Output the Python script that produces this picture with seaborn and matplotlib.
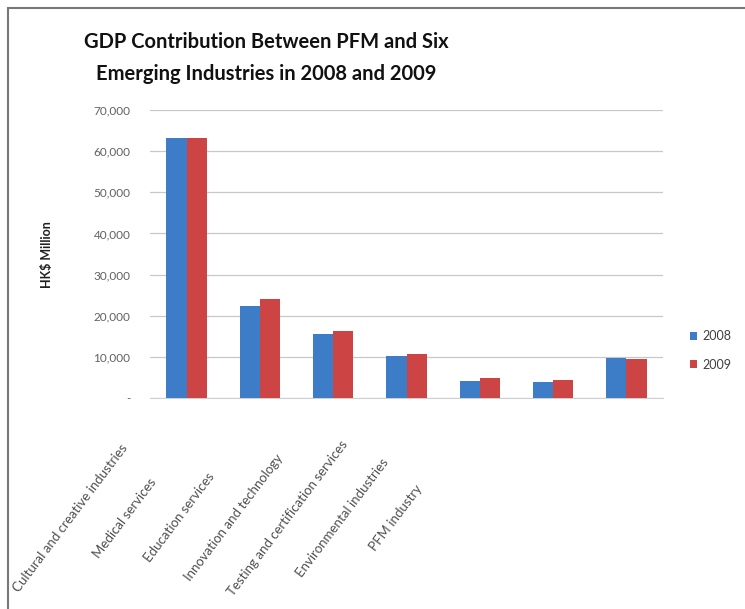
import pandas as pd
import numpy as np
import matplotlib.pyplot as plt
import seaborn as sns
from matplotlib.ticker import FuncFormatter
from matplotlib.transforms import ScaledTranslation
from matplotlib.patches import Rectangle

# values (HK$ million)
industries = ['Cultural and creative industries', 'Medical services', 'Education services',
              'Innovation and technology', 'Testing and certification services',
              'Environmental industries', 'PFM industry']
gdp_2008 = [63300, 22400, 15600, 10200, 4200, 3900, 9700]
gdp_2009 = [63100, 24100, 16300, 10600, 4900, 4400, 9600]
years = ['2008', '2009']

df = pd.DataFrame({
    'Industry': industries * 2,
    'Year': ['2008'] * len(industries) + ['2009'] * len(industries),
    'GDP': gdp_2008 + gdp_2009,
})

sns.set_style('white')
plt.rcParams['font.family'] = ['Lato', 'DejaVu Sans']

fig = plt.figure(figsize=(7.45, 6.09), dpi=100)
ax = fig.add_axes([150 / 745, 1 - 398 / 609, 513 / 745, 288 / 609])

sns.barplot(data=df, x='Industry', y='GDP', hue='Year', order=industries, hue_order=years,
            palette=['#3d7cc6', '#cc4444'], width=0.55, gap=0, saturation=1,
            edgecolor='none', ax=ax, zorder=3)

ax.set_ylim(0, 70000)
ax.set_yticks(np.arange(0, 70001, 10000))
ax.yaxis.set_major_formatter(FuncFormatter(lambda v, p: '-' if v == 0 else f'{int(v):,}'))
ax.grid(axis='y', color='#c8c8c8', linewidth=0.9, zorder=0)
ax.tick_params(axis='y', labelsize=8.5, colors='#606060', length=0, pad=14)
ax.tick_params(axis='x', length=0)
ax.set_xlabel('')
ax.set_ylabel('')
for s in ['top', 'right', 'left']:
    ax.spines[s].set_visible(False)
ax.spines['bottom'].set_color('#d0d0d0')

# slanted category labels, spaced as in the picture
ax.set_xticks(range(len(industries)))
ax.set_xticklabels(industries, rotation=53, ha='center', va='center', rotation_mode='anchor',
                   fontsize=9.5, color='#505050')
for i, lab in enumerate(ax.get_xticklabels()):
    dx = (-116 - 19 * i) / 100
    dy = -(513 - 398) / 100
    lab.set_transform(lab.get_transform() + ScaledTranslation(dx, dy, fig.dpi_scale_trans))

ax.legend(title=None, frameon=False, loc='center left', bbox_to_anchor=(1.03, 0.165),
          fontsize=9, handlelength=0.6, handleheight=0.6, handletextpad=0.4,
          labelspacing=1.3, labelcolor='#404040')

fig.text(47 / 745, 1 - 255 / 609, 'HK$ Million', rotation=90, ha='center', va='center',
         fontsize=9, fontweight='bold', color='#202020')
fig.text(266 / 745, 1 - 58 / 609, 'GDP Contribution Between PFM and Six\nEmerging Industries in 2008 and 2009',
         ha='center', va='center', fontsize=14.5, fontweight='bold', linespacing=1.7, color='#111111')

fig.patches.append(Rectangle((8 / 745, -0.1), 1.2, 1 - 8 / 609 + 0.1, transform=fig.transFigure,
                             fill=False, edgecolor='#777777', linewidth=1.5))

fig.savefig('out.png', dpi=100)
